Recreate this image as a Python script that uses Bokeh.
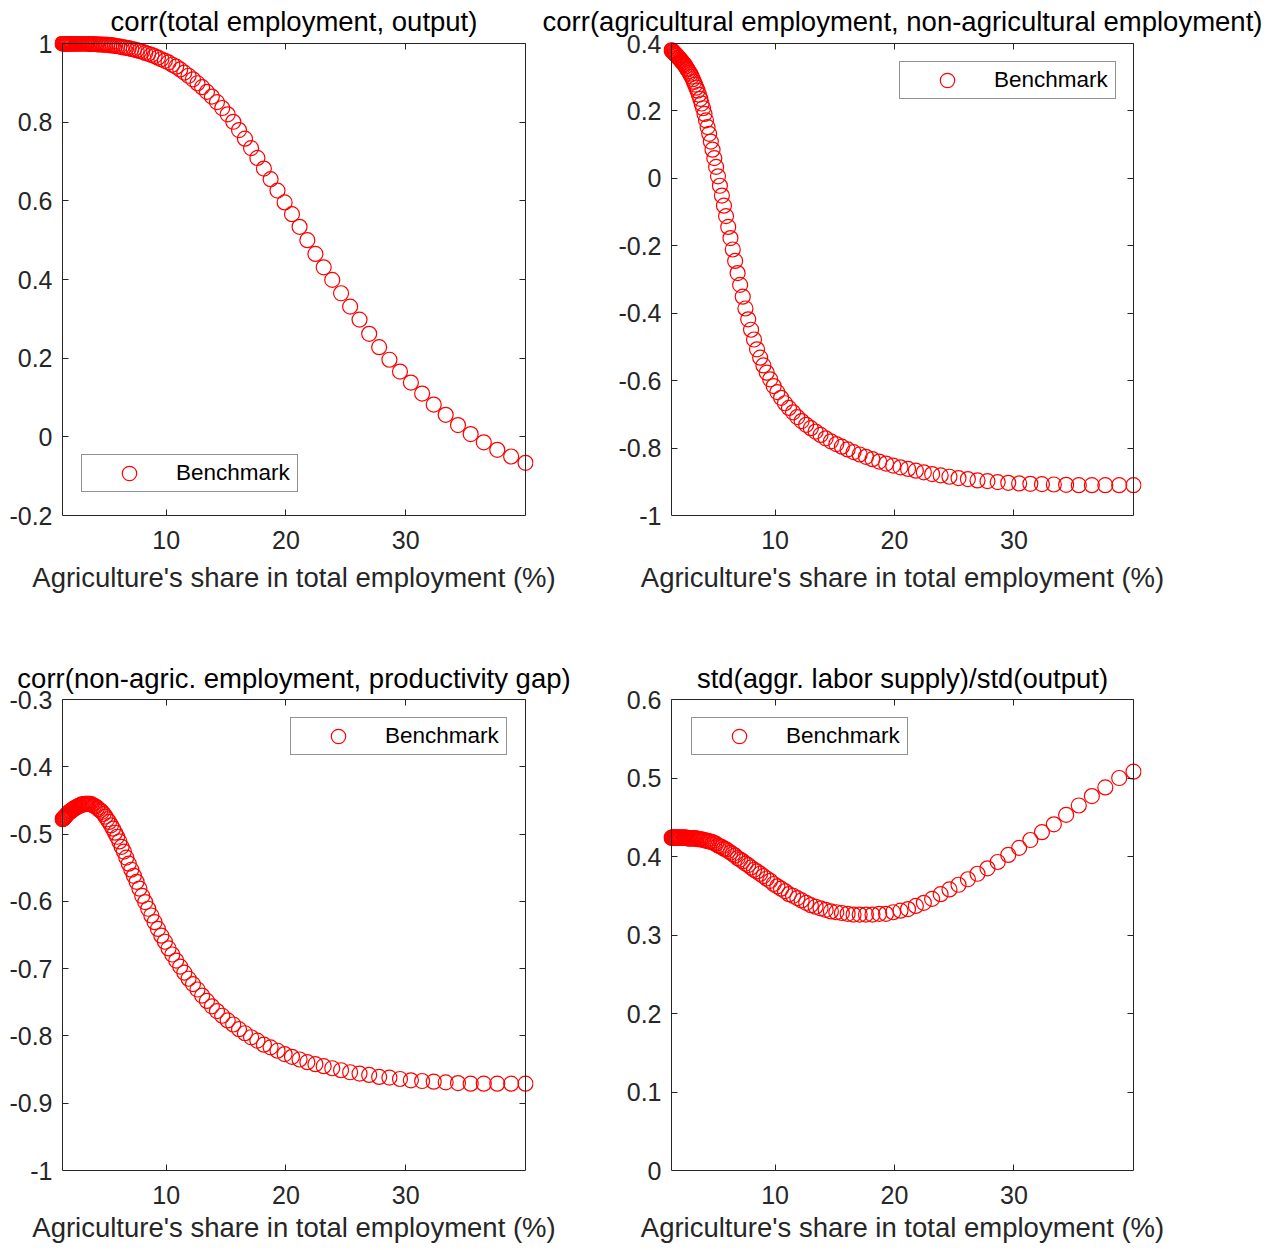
from bokeh.embed import file_html
from bokeh.layouts import column, row
from bokeh.models import FixedTicker, Legend, LegendItem, LinearAxis, Range1d
from bokeh.plotting import figure
from bokeh.resources import INLINE

# Agriculture's share in total employment (%), common to all four panels
share = [
    1.330, 1.371, 1.413, 1.457, 1.502, 1.548, 1.596, 1.645, 1.696, 1.748,
    1.802, 1.858, 1.915, 1.974, 2.035, 2.098, 2.163, 2.230, 2.299, 2.369,
    2.443, 2.518, 2.596, 2.676, 2.758, 2.843, 2.931, 3.022, 3.115, 3.211,
    3.310, 3.412, 3.518, 3.626, 3.738, 3.853, 3.972, 4.095, 4.221, 4.351,
    4.486, 4.624, 4.767, 4.914, 5.066, 5.222, 5.383, 5.549, 5.721, 5.897,
    6.079, 6.267, 6.460, 6.659, 6.865, 7.077, 7.295, 7.520, 7.752, 7.992,
    8.238, 8.492, 8.754, 9.025, 9.303, 9.590, 9.886, 10.191, 10.506, 10.830,
    11.164, 11.509, 11.864, 12.230, 12.607, 12.996, 13.397, 13.811, 14.237, 14.676,
    15.130, 15.597, 16.078, 16.574, 17.086, 17.613, 18.157, 18.717, 19.294, 19.890,
    20.503, 21.136, 21.788, 22.460, 23.152, 23.868, 24.604, 25.363, 26.147, 26.953,
    27.786, 28.644, 29.527, 30.438, 31.378, 32.346, 33.344, 34.374, 35.434, 36.528,
    37.654, 38.816, 40.014,
]

# corr(total employment, output)
corr_emp_output = [
    1.000, 1.000, 1.000, 1.000, 1.000, 1.000, 1.000, 1.000, 1.000, 1.000,
    1.000, 1.000, 1.000, 1.000, 1.000, 1.000, 1.000, 1.000, 1.000, 1.000,
    1.000, 1.000, 1.000, 1.000, 1.000, 1.000, 1.000, 1.000, 1.000, 1.000,
    1.000, 1.000, 0.999, 0.999, 0.999, 0.999, 0.999, 0.999, 0.998, 0.998,
    0.998, 0.998, 0.997, 0.997, 0.997, 0.996, 0.995, 0.995, 0.994, 0.993,
    0.993, 0.991, 0.990, 0.989, 0.988, 0.986, 0.985, 0.983, 0.981, 0.979,
    0.976, 0.974, 0.971, 0.968, 0.964, 0.960, 0.956, 0.952, 0.946, 0.941,
    0.934, 0.926, 0.918, 0.909, 0.899, 0.889, 0.877, 0.865, 0.851, 0.836,
    0.820, 0.801, 0.780, 0.758, 0.734, 0.709, 0.682, 0.655, 0.626, 0.596,
    0.566, 0.534, 0.500, 0.465, 0.431, 0.399, 0.365, 0.331, 0.298, 0.262,
    0.228, 0.196, 0.166, 0.138, 0.110, 0.082, 0.056, 0.030, 0.007, -0.014,
    -0.033, -0.050, -0.066,
]

# corr(agricultural employment, non-agricultural employment)
corr_agr_nonagr = [
    0.380, 0.379, 0.377, 0.376, 0.374, 0.372, 0.370, 0.369, 0.367, 0.365,
    0.363, 0.360, 0.358, 0.356, 0.353, 0.351, 0.348, 0.345, 0.342, 0.339,
    0.336, 0.332, 0.327, 0.323, 0.318, 0.313, 0.308, 0.302, 0.294, 0.286,
    0.278, 0.269, 0.260, 0.248, 0.236, 0.222, 0.208, 0.191, 0.172, 0.152,
    0.132, 0.109, 0.085, 0.060, 0.034, 0.006, -0.022, -0.051, -0.081, -0.112,
    -0.144, -0.177, -0.211, -0.245, -0.281, -0.316, -0.351, -0.386, -0.418, -0.449,
    -0.478, -0.507, -0.532, -0.555, -0.576, -0.596, -0.616, -0.634, -0.651, -0.667,
    -0.681, -0.694, -0.708, -0.720, -0.731, -0.741, -0.751, -0.761, -0.771, -0.780,
    -0.788, -0.796, -0.804, -0.812, -0.819, -0.826, -0.833, -0.840, -0.846, -0.852,
    -0.857, -0.862, -0.867, -0.872, -0.877, -0.881, -0.885, -0.889, -0.892, -0.896,
    -0.898, -0.901, -0.903, -0.905, -0.906, -0.907, -0.908, -0.909, -0.910, -0.910,
    -0.910, -0.910, -0.910,
]

# corr(non-agric. employment, productivity gap)
corr_nonagr_gap = [
    -0.478, -0.477, -0.477, -0.476, -0.475, -0.474, -0.473, -0.472, -0.471, -0.470,
    -0.469, -0.468, -0.467, -0.466, -0.466, -0.465, -0.464, -0.463, -0.462, -0.461,
    -0.461, -0.460, -0.459, -0.458, -0.458, -0.457, -0.456, -0.456, -0.456, -0.455,
    -0.455, -0.455, -0.455, -0.455, -0.456, -0.457, -0.458, -0.459, -0.461, -0.463,
    -0.465, -0.467, -0.470, -0.474, -0.478, -0.482, -0.487, -0.492, -0.498, -0.504,
    -0.511, -0.519, -0.526, -0.535, -0.544, -0.553, -0.562, -0.571, -0.581, -0.592,
    -0.601, -0.611, -0.621, -0.631, -0.641, -0.651, -0.660, -0.670, -0.679, -0.688,
    -0.697, -0.706, -0.715, -0.723, -0.731, -0.740, -0.748, -0.756, -0.763, -0.770,
    -0.777, -0.783, -0.790, -0.796, -0.802, -0.807, -0.813, -0.817, -0.822, -0.827,
    -0.831, -0.835, -0.839, -0.842, -0.845, -0.848, -0.851, -0.854, -0.856, -0.858,
    -0.861, -0.862, -0.864, -0.866, -0.867, -0.868, -0.869, -0.870, -0.871, -0.871,
    -0.871, -0.871, -0.871,
]

# std(aggr. labor supply)/std(output)
std_labor_output = [
    0.424, 0.424, 0.424, 0.424, 0.424, 0.424, 0.424, 0.424, 0.424, 0.424,
    0.424, 0.424, 0.424, 0.424, 0.424, 0.424, 0.424, 0.424, 0.424, 0.424,
    0.424, 0.424, 0.424, 0.423, 0.423, 0.423, 0.423, 0.423, 0.423, 0.423,
    0.423, 0.423, 0.422, 0.422, 0.422, 0.422, 0.421, 0.421, 0.420, 0.420,
    0.419, 0.419, 0.418, 0.417, 0.416, 0.414, 0.413, 0.412, 0.410, 0.409,
    0.407, 0.405, 0.403, 0.401, 0.398, 0.396, 0.394, 0.391, 0.389, 0.386,
    0.383, 0.381, 0.378, 0.375, 0.372, 0.369, 0.365, 0.362, 0.359, 0.356,
    0.352, 0.350, 0.347, 0.344, 0.341, 0.338, 0.336, 0.334, 0.332, 0.330,
    0.329, 0.328, 0.327, 0.326, 0.326, 0.326, 0.326, 0.327, 0.327, 0.329,
    0.331, 0.333, 0.337, 0.341, 0.346, 0.352, 0.358, 0.364, 0.371, 0.378,
    0.385, 0.393, 0.402, 0.411, 0.421, 0.431, 0.441, 0.453, 0.465, 0.477,
    0.488, 0.500, 0.508,
]

x_ticks = [10.0, 20.0, 30.0]
x_tick_labels = ["10", "20", "30"]

y_ticks_1 = [-0.2, 0.0, 0.2, 0.4, 0.6, 0.8, 1.0]
y_labels_1 = ["-0.2", "0", "0.2", "0.4", "0.6", "0.8", "1"]
y_ticks_2 = [-1.0, -0.8, -0.6, -0.4, -0.2, 0.0, 0.2, 0.4]
y_labels_2 = ["-1", "-0.8", "-0.6", "-0.4", "-0.2", "0", "0.2", "0.4"]
y_ticks_3 = [-1.0, -0.9, -0.8, -0.7, -0.6, -0.5, -0.4, -0.3]
y_labels_3 = ["-1", "-0.9", "-0.8", "-0.7", "-0.6", "-0.5", "-0.4", "-0.3"]
y_ticks_4 = [0.0, 0.1, 0.2, 0.3, 0.4, 0.5, 0.6]
y_labels_4 = ["0", "0.1", "0.2", "0.3", "0.4", "0.5", "0.6"]

titles = [
    "corr(total employment, output)",
    "corr(agricultural employment, non-agricultural employment)",
    "corr(non-agric. employment, productivity gap)",
    "std(aggr. labor supply)/std(output)",
]
x_label = "Agriculture's share in total employment (%)"
series_name = "Benchmark"

FONT = "Liberation Sans"
INK = "#262626"
RED = "#ff0000"

# The plotting frame reaches a few pixels past the axes box on the left, right
# and top so that markers sitting on the box edge are drawn whole. The box
# lines and ticks on those sides are axes pinned to the data limits.
PAD_L, PAD_R = 8, 8
TOP_H = 559      # upper panels, down to their tick labels
STRIP_H = 71     # strip under them that carries their x-axis titles


def style_title(t, text, color="black"):
    t.text = text
    t.text_font = FONT
    t.text_font_size = "27.5px"
    t.text_font_style = "normal"
    t.text_color = color
    t.standoff = 0
    t.align = "center"


def label_strip(text, fig_x, fig_w, box_l, box_r):
    # x-axis title of an upper panel, centred under its axes box
    b = figure(
        width=fig_w, height=STRIP_H,
        output_backend="svg", toolbar_location=None,
        x_range=Range1d(0, 1), y_range=Range1d(0, 1),
        x_axis_type=None, y_axis_type=None,
        min_border_left=box_l - fig_x, min_border_right=fig_x + fig_w - box_r,
        min_border_top=20, min_border_bottom=0,
    )
    b.outline_line_color = None
    b.background_fill_color = "white"
    b.border_fill_color = "white"
    style_title(b.title, text, INK)
    return b


def base_axis(ticks, labels, **kw):
    axis = LinearAxis(ticker=FixedTicker(ticks=ticks), **kw)
    axis.major_label_overrides = dict(zip(ticks, labels))
    axis.major_tick_in = 6
    axis.major_tick_out = 0
    axis.minor_tick_line_color = None
    axis.axis_line_color = INK
    axis.axis_line_width = 1
    axis.major_tick_line_color = INK
    axis.major_label_text_font = FONT
    axis.major_label_text_color = INK
    axis.major_label_text_font_size = "25px"
    return axis


def box_side(p, side, ticks, labels, loc, bounds):
    # line and inward ticks only, placed on the data limit
    axis = base_axis(ticks, labels, fixed_location=loc, bounds=bounds)
    axis.major_label_text_color = None
    axis.major_label_text_font_size = "0px"
    axis.major_label_standoff = 0
    p.add_layout(axis, side)


def make_panel(title, values, y_ticks, y_labels, legend_off, fig_x, fig_w,
               row_y, row_h, box, pad_t, x_std, axis_title=None, label_std=0):
    box_l, box_r, box_t, box_b = box
    x0, x1 = min(share), max(share)
    y0, y1 = min(y_ticks), max(y_ticks)
    kx = (x1 - x0) / (box_r - box_l)
    ky = (y1 - y0) / (box_b - box_t)

    p = figure(
        width=fig_w, height=row_h,
        output_backend="svg", toolbar_location=None,
        x_range=Range1d(x0 - PAD_L * kx, x1 + PAD_R * kx),
        y_range=Range1d(y0, y1 + pad_t * ky),
        x_axis_type=None, y_axis_type=None,
        min_border_left=box_l - PAD_L - fig_x,
        min_border_right=fig_x + fig_w - (box_r + PAD_R),
        min_border_top=box_t - pad_t - row_y,
        min_border_bottom=row_y + row_h - box_b,
    )
    p.outline_line_color = None
    p.background_fill_color = "white"
    p.border_fill_color = "white"
    style_title(p.title, title)

    # bottom: line, ticks, tick labels (and the axis title when it fits)
    bottom = base_axis(x_ticks, x_tick_labels, bounds=(x0, x1))
    bottom.major_label_standoff = x_std
    if axis_title:
        bottom.axis_label = axis_title
        bottom.axis_label_text_font = FONT
        bottom.axis_label_text_font_size = "27.5px"
        bottom.axis_label_text_font_style = "normal"
        bottom.axis_label_text_color = INK
        bottom.axis_label_standoff = label_std
    p.add_layout(bottom, "below")

    # left: tick labels on the frame edge, line and ticks on the data limit
    left = base_axis(y_ticks, y_labels, bounds=(y0, y1))
    left.axis_line_color = None
    left.major_tick_line_color = None
    left.major_label_standoff = 10 - PAD_L
    p.add_layout(left, "left")
    box_side(p, "left", y_ticks, y_labels, x0, (y0, y1))

    box_side(p, "above", x_ticks, x_tick_labels, y1, (x0, x1))
    box_side(p, "right", y_ticks, y_labels, x1, (y0, y1))

    r = p.scatter(share, values, marker="circle", size=15,
                  fill_color=None, line_color=RED, line_width=1.2)

    legend = Legend(
        items=[LegendItem(label=series_name, renderers=[r])],
        location=(legend_off[0] + PAD_L, legend_off[1]),
        margin=0, padding=0, spacing=0,
        glyph_width=94, glyph_height=36, label_standoff=0,
        label_width=121, label_height=36,
        label_text_font=FONT, label_text_font_size="22.5px",
        label_text_color="black", label_text_baseline="middle",
        border_line_color=INK, border_line_width=1,
        background_fill_color="white", background_fill_alpha=1.0,
    )
    p.add_layout(legend)
    return p


p1 = make_panel(titles[0], corr_emp_output, y_ticks_1, y_labels_1, (19, 23),
                0, 540, 0, TOP_H, (62, 525, 43, 515), 7, 15)
p2 = make_panel(titles[1], corr_agr_nonagr, y_ticks_2, y_labels_2, (228, 416),
                540, 734, 0, TOP_H, (671, 1133, 43, 515), 7, 15)
strip1 = label_strip(x_label, 0, 600, 62, 525)
strip2 = label_strip(x_label, 600, 674, 671, 1133)
p3 = make_panel(titles[2], corr_nonagr_gap, y_ticks_3, y_labels_3, (228, 415),
                0, 600, 630, 620, (62, 525, 699, 1170), 6, 15, x_label, 5)
p4 = make_panel(titles[3], std_labor_output, y_ticks_4, y_labels_4, (20, 415),
                600, 674, 630, 620, (671, 1133, 699, 1170), 6, 15, x_label, 5)

layout = column(row(p1, p2), row(strip1, strip2), row(p3, p4))

with open("out.html", "w") as f:
    f.write(file_html(layout, INLINE))
